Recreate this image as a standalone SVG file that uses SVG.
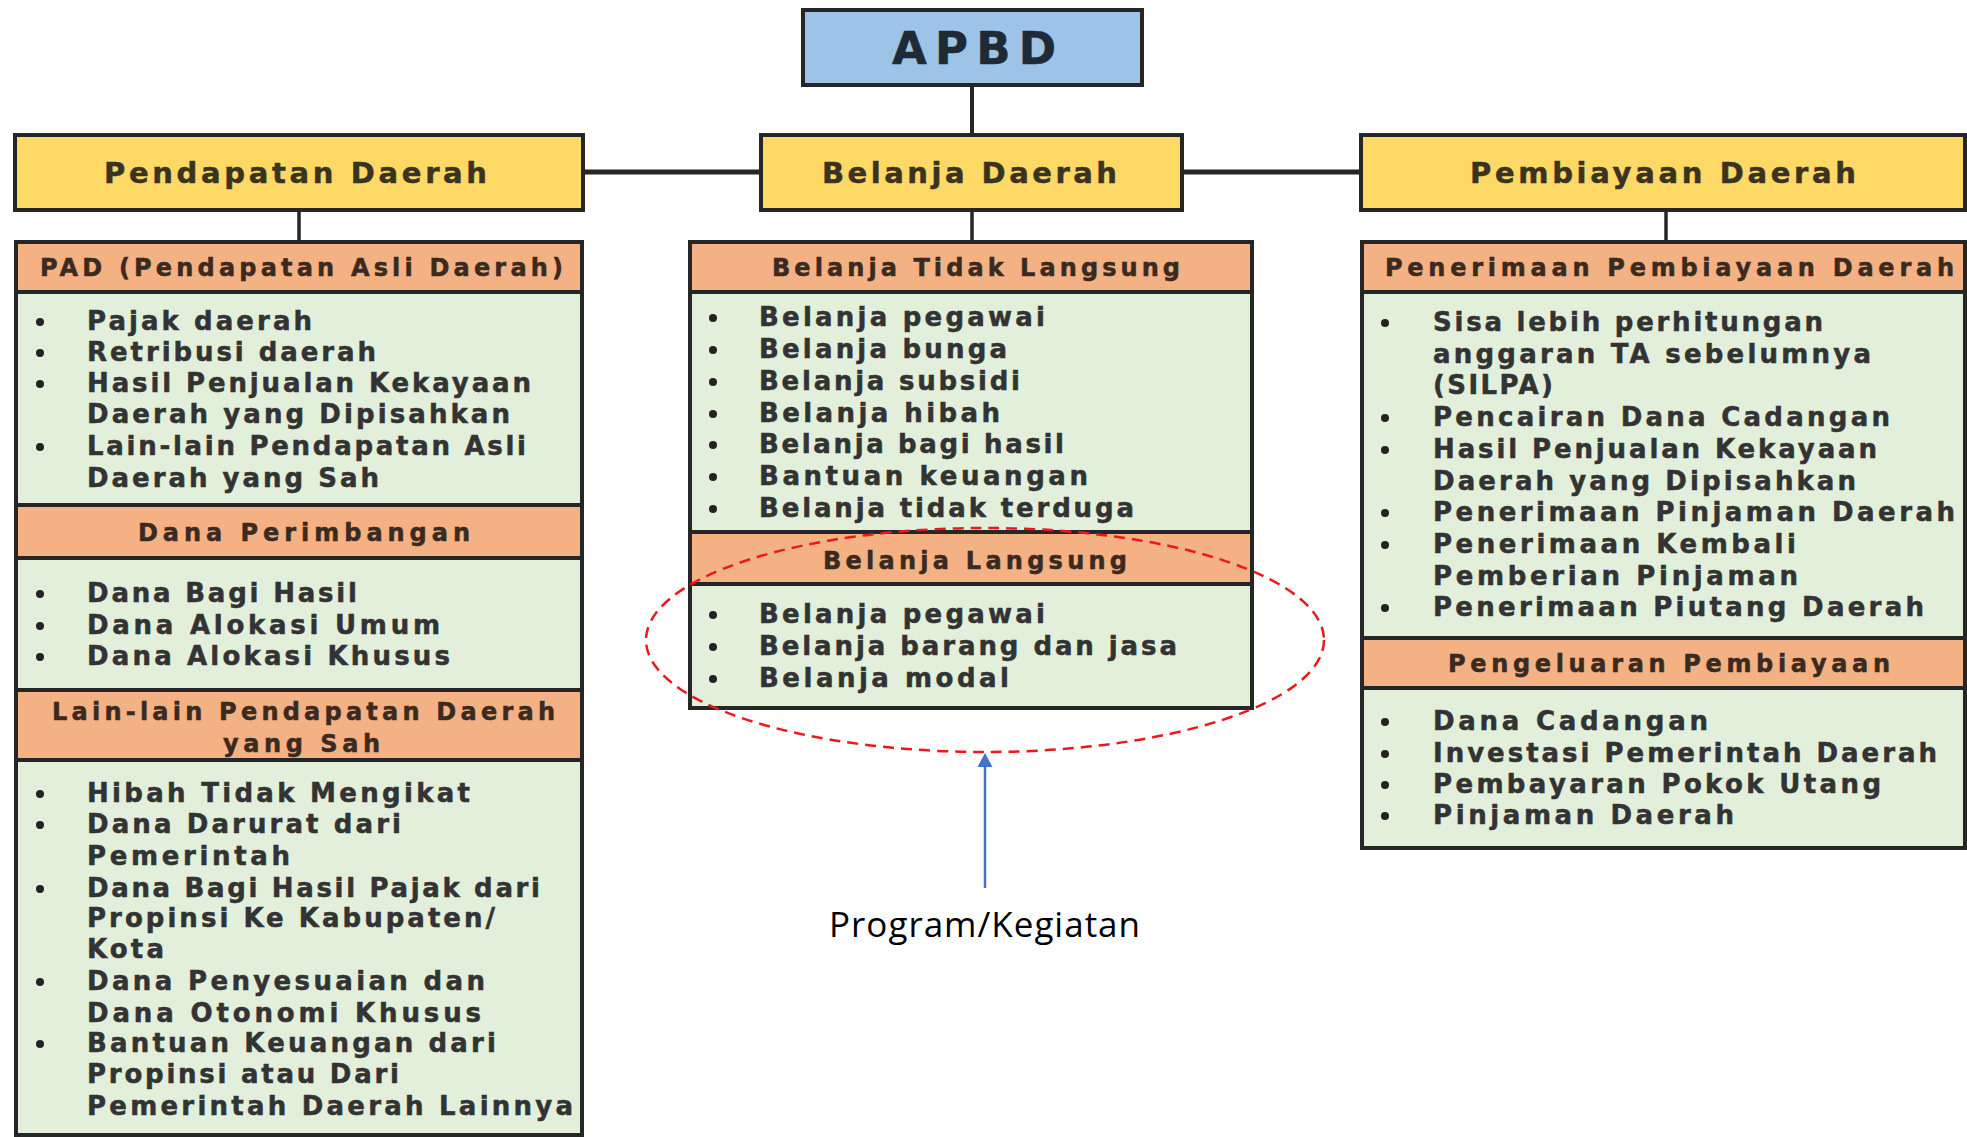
<svg xmlns="http://www.w3.org/2000/svg" width="1967" height="1137" viewBox="0 0 1967 1137">
<style>
.bx{stroke:#262626;stroke-width:4}
.blu{fill:#9DC3E6}
.yel{fill:#FFD966}
.hdr{fill:#F4B183}
.lst{fill:#E2EFDA}
.t{font-family:"DejaVu Sans",Verdana,sans-serif;font-weight:bold;fill:#333333;stroke:#333333;stroke-width:0.5;font-size:26px}
.h{font-size:24px;fill:#3a2a20;stroke:#3a2a20}
.y{font-size:29px;fill:#3a3320;stroke:#3a3320}
.a{font-size:45px;fill:#1f2a36;stroke:#1f2a36}
.bul{fill:#222}
.con{stroke:#262626;fill:none}
</style>
<rect width="1967" height="1137" fill="#ffffff"/>

<g id="connectors">
<line class="con" x1="972" y1="85" x2="972" y2="135" stroke-width="4"/>
<line class="con" x1="583" y1="172" x2="761" y2="172" stroke-width="5"/>
<line class="con" x1="1182" y1="172" x2="1361" y2="172" stroke-width="5"/>
<line class="con" x1="299" y1="210" x2="299" y2="242" stroke-width="3.5"/>
<line class="con" x1="972" y1="210" x2="972" y2="242" stroke-width="3.5"/>
<line class="con" x1="1666" y1="210" x2="1666" y2="242" stroke-width="3.5"/>
</g>

<g id="apbd">
<rect class="bx blu" x="803" y="10" width="339" height="75"/>
<text class="t a" x="892" y="64" textLength="164" lengthAdjust="spacing">APBD</text>
</g>

<g id="pendapatan-daerah">
<rect class="bx yel" x="15" y="135" width="568" height="75"/>
<text class="t y" x="104" y="183" textLength="383" lengthAdjust="spacing">Pendapatan Daerah</text>
</g>
<g id="belanja-daerah">
<rect class="bx yel" x="761" y="135" width="421" height="75"/>
<text class="t y" x="822" y="183" textLength="295" lengthAdjust="spacing">Belanja Daerah</text>
</g>
<g id="pembiayaan-daerah">
<rect class="bx yel" x="1361" y="135" width="604" height="75"/>
<text class="t y" x="1470" y="183" textLength="386" lengthAdjust="spacing">Pembiayaan Daerah</text>
</g>

<!-- Left column -->
<g id="pad">
<rect class="bx hdr" x="16" y="242" width="566" height="50"/>
<text class="t h" x="40" y="276" textLength="523" lengthAdjust="spacing">PAD (Pendapatan Asli Daerah)</text>
<rect class="bx lst" x="16" y="292" width="566" height="213"/>
<g class="bul"><circle cx="40" cy="322" r="4"/><circle cx="40" cy="353" r="4"/><circle cx="40" cy="384" r="4"/><circle cx="40" cy="447" r="4"/></g>
<text class="t" x="87" y="330" textLength="225" lengthAdjust="spacing">Pajak daerah</text>
<text class="t" x="87" y="361" textLength="289" lengthAdjust="spacing">Retribusi daerah</text>
<text class="t" x="87" y="392" textLength="444" lengthAdjust="spacing">Hasil Penjualan Kekayaan</text>
<text class="t" x="87" y="423" textLength="423" lengthAdjust="spacing">Daerah yang Dipisahkan</text>
<text class="t" x="87" y="455" textLength="439" lengthAdjust="spacing">Lain-lain Pendapatan Asli</text>
<text class="t" x="87" y="487" textLength="292" lengthAdjust="spacing">Daerah yang Sah</text>
</g>
<g id="dana-perimbangan">
<rect class="bx hdr" x="16" y="505" width="566" height="53"/>
<text class="t h" x="138" y="541" textLength="332" lengthAdjust="spacing">Dana Perimbangan</text>
<rect class="bx lst" x="16" y="558" width="566" height="132"/>
<g class="bul"><circle cx="40" cy="594" r="4"/><circle cx="40" cy="626" r="4"/><circle cx="40" cy="657" r="4"/></g>
<text class="t" x="87" y="602" textLength="270" lengthAdjust="spacing">Dana Bagi Hasil</text>
<text class="t" x="87" y="634" textLength="353" lengthAdjust="spacing">Dana Alokasi Umum</text>
<text class="t" x="87" y="665" textLength="363" lengthAdjust="spacing">Dana Alokasi Khusus</text>
</g>
<g id="lain-lain">
<rect class="bx hdr" x="16" y="690" width="566" height="70"/>
<text class="t h" x="52" y="720" textLength="503" lengthAdjust="spacing">Lain-lain Pendapatan Daerah</text>
<text class="t h" x="223" y="752" textLength="157" lengthAdjust="spacing">yang Sah</text>
<rect class="bx lst" x="16" y="760" width="566" height="375"/>
<g class="bul"><circle cx="40" cy="794" r="4"/><circle cx="40" cy="825" r="4"/><circle cx="40" cy="889" r="4"/><circle cx="40" cy="982" r="4"/><circle cx="40" cy="1044" r="4"/></g>
<text class="t" x="87" y="802" textLength="383" lengthAdjust="spacing">Hibah Tidak Mengikat</text>
<text class="t" x="87" y="833" textLength="314" lengthAdjust="spacing">Dana Darurat dari</text>
<text class="t" x="87" y="865" textLength="203" lengthAdjust="spacing">Pemerintah</text>
<text class="t" x="87" y="897" textLength="453" lengthAdjust="spacing">Dana Bagi Hasil Pajak dari</text>
<text class="t" x="87" y="927" textLength="408" lengthAdjust="spacing">Propinsi Ke Kabupaten/</text>
<text class="t" x="87" y="958" textLength="77" lengthAdjust="spacing">Kota</text>
<text class="t" x="87" y="990" textLength="398" lengthAdjust="spacing">Dana Penyesuaian dan</text>
<text class="t" x="87" y="1022" textLength="394" lengthAdjust="spacing">Dana Otonomi Khusus</text>
<text class="t" x="87" y="1052" textLength="409" lengthAdjust="spacing">Bantuan Keuangan dari</text>
<text class="t" x="87" y="1083" textLength="312" lengthAdjust="spacing">Propinsi atau Dari</text>
<text class="t" x="87" y="1115" textLength="486" lengthAdjust="spacing">Pemerintah Daerah Lainnya</text>
</g>

<!-- Center column -->
<g id="belanja-tidak-langsung">
<rect class="bx hdr" x="690" y="242" width="562" height="50"/>
<text class="t h" x="772" y="276" textLength="408" lengthAdjust="spacing">Belanja Tidak Langsung</text>
<rect class="bx lst" x="690" y="292" width="562" height="240"/>
<g class="bul"><circle cx="713" cy="318" r="4"/><circle cx="713" cy="350" r="4"/><circle cx="713" cy="382" r="4"/><circle cx="713" cy="414" r="4"/><circle cx="713" cy="445" r="4"/><circle cx="713" cy="477" r="4"/><circle cx="713" cy="509" r="4"/></g>
<text class="t" x="759" y="326" textLength="286" lengthAdjust="spacing">Belanja pegawai</text>
<text class="t" x="759" y="358" textLength="248" lengthAdjust="spacing">Belanja bunga</text>
<text class="t" x="759" y="390" textLength="261" lengthAdjust="spacing">Belanja subsidi</text>
<text class="t" x="759" y="422" textLength="241" lengthAdjust="spacing">Belanja hibah</text>
<text class="t" x="759" y="453" textLength="305" lengthAdjust="spacing">Belanja bagi hasil</text>
<text class="t" x="759" y="485" textLength="329" lengthAdjust="spacing">Bantuan keuangan</text>
<text class="t" x="759" y="517" textLength="375" lengthAdjust="spacing">Belanja tidak terduga</text>
</g>
<g id="belanja-langsung">
<rect class="bx hdr" x="690" y="532" width="562" height="52"/>
<text class="t h" x="823" y="569" textLength="304" lengthAdjust="spacing">Belanja Langsung</text>
<rect class="bx lst" x="690" y="584" width="562" height="124"/>
<g class="bul"><circle cx="713" cy="615" r="4"/><circle cx="713" cy="647" r="4"/><circle cx="713" cy="679" r="4"/></g>
<text class="t" x="759" y="623" textLength="286" lengthAdjust="spacing">Belanja pegawai</text>
<text class="t" x="759" y="655" textLength="418" lengthAdjust="spacing">Belanja barang dan jasa</text>
<text class="t" x="759" y="687" textLength="250" lengthAdjust="spacing">Belanja modal</text>
</g>

<!-- Right column -->
<g id="penerimaan-pembiayaan">
<rect class="bx hdr" x="1362" y="242" width="603" height="50"/>
<text class="t h" x="1385" y="276" textLength="569" lengthAdjust="spacing">Penerimaan Pembiayaan Daerah</text>
<rect class="bx lst" x="1362" y="292" width="603" height="346"/>
<g class="bul"><circle cx="1385" cy="323" r="4"/><circle cx="1385" cy="418" r="4"/><circle cx="1385" cy="450" r="4"/><circle cx="1385" cy="513" r="4"/><circle cx="1385" cy="545" r="4"/><circle cx="1385" cy="608" r="4"/></g>
<text class="t" x="1433" y="331" textLength="390" lengthAdjust="spacing">Sisa lebih perhitungan</text>
<text class="t" x="1433" y="363" textLength="438" lengthAdjust="spacing">anggaran TA sebelumnya</text>
<text class="t" x="1433" y="394" textLength="120" lengthAdjust="spacing">(SILPA)</text>
<text class="t" x="1433" y="426" textLength="457" lengthAdjust="spacing">Pencairan Dana Cadangan</text>
<text class="t" x="1433" y="458" textLength="444" lengthAdjust="spacing">Hasil Penjualan Kekayaan</text>
<text class="t" x="1433" y="490" textLength="423" lengthAdjust="spacing">Daerah yang Dipisahkan</text>
<text class="t" x="1433" y="521" textLength="522" lengthAdjust="spacing">Penerimaan Pinjaman Daerah</text>
<text class="t" x="1433" y="553" textLength="363" lengthAdjust="spacing">Penerimaan Kembali</text>
<text class="t" x="1433" y="585" textLength="365" lengthAdjust="spacing">Pemberian Pinjaman</text>
<text class="t" x="1433" y="616" textLength="491" lengthAdjust="spacing">Penerimaan Piutang Daerah</text>
</g>
<g id="pengeluaran-pembiayaan">
<rect class="bx hdr" x="1362" y="638" width="603" height="50"/>
<text class="t h" x="1448" y="672" textLength="442" lengthAdjust="spacing">Pengeluaran Pembiayaan</text>
<rect class="bx lst" x="1362" y="688" width="603" height="160"/>
<g class="bul"><circle cx="1385" cy="722" r="4"/><circle cx="1385" cy="754" r="4"/><circle cx="1385" cy="785" r="4"/><circle cx="1385" cy="816" r="4"/></g>
<text class="t" x="1433" y="730" textLength="275" lengthAdjust="spacing">Dana Cadangan</text>
<text class="t" x="1433" y="762" textLength="504" lengthAdjust="spacing">Investasi Pemerintah Daerah</text>
<text class="t" x="1433" y="793" textLength="448" lengthAdjust="spacing">Pembayaran Pokok Utang</text>
<text class="t" x="1433" y="824" textLength="301" lengthAdjust="spacing">Pinjaman Daerah</text>
</g>

<g id="program-kegiatan">
<ellipse cx="985" cy="640" rx="339" ry="112" fill="none" stroke="#E8191F" stroke-width="2.5" stroke-dasharray="11 7"/>
<line x1="985" y1="888" x2="985" y2="767" stroke="#4472C4" stroke-width="2.5"/>
<path d="M977.5,767 L992.5,767 L985,753 z" fill="#4472C4"/>
<text x="829" y="937" font-family="'Open Sans','Liberation Sans',sans-serif" font-size="35" fill="#000" textLength="311" lengthAdjust="spacing">Program/Kegiatan</text>
</g>
</svg>
